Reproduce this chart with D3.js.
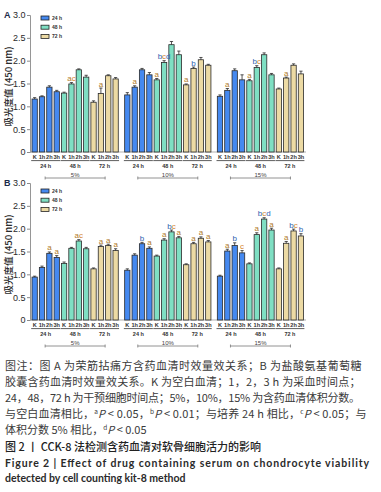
<!DOCTYPE html>
<html>
<head>
<meta charset="utf-8">
<script src="https://cdn.jsdelivr.net/npm/d3@7"></script>
<style>
body { margin: 0; background: #fff; }
svg { display: block; }
</style>
</head>
<body>
<div id="chart"></div>
<script>
// categories
const concentrations = ["5%", "10%", "15%"];
const cultureTimes = ["24 h", "48 h", "72 h"];
const sampleTimes = ["K", "1h", "2h", "3h"];
const yTicks = [0, 0.5, 1.0, 1.5, 2.0, 2.5, 3.0];

// panel A: one row per concentration, 12 bars = culture time x sample time
const valuesA = [
    [1.16, 1.21, 1.42, 1.32, 1.29, 1.49, 1.80, 1.64, 1.09, 1.28, 1.67, 1.60],
    [1.25, 1.42, 1.80, 1.69, 1.58, 1.96, 2.35, 2.13, 1.47, 1.83, 2.02, 1.90],
    [1.22, 1.35, 1.78, 1.58, 1.56, 1.85, 2.13, 1.69, 1.38, 1.62, 1.90, 1.71]
];
const errorsA = [
    [0.03, 0.02, 0.03, 0.03, 0.02, 0.03, 0.02, 0.04, 0.03, 0.12, 0.02, 0.03],
    [0.05, 0.03, 0.03, 0.05, 0.03, 0.04, 0.07, 0.08, 0.02, 0.03, 0.05, 0.02],
    [0.03, 0.04, 0.04, 0.11, 0.03, 0.04, 0.04, 0.03, 0.02, 0.02, 0.03, 0.06]
];
const marksA = [
    ["", "", "", "", "", "ac", "", "", "", "a", "", ""],
    ["", "a", "", "", "a", "bcd", "", "", "a", "b", "", ""],
    ["", "a", "", "", "a", "bc", "", "", "", "a", "", ""]
];

// panel B
const valuesB = [
    [0.94, 1.15, 1.46, 1.37, 1.24, 1.57, 1.73, 1.56, 1.12, 1.61, 1.63, 1.52],
    [1.09, 1.42, 1.67, 1.57, 1.40, 1.75, 1.93, 1.80, 1.21, 1.67, 1.79, 1.71],
    [0.96, 1.51, 1.63, 1.47, 1.23, 1.87, 2.21, 1.97, 1.12, 1.68, 1.95, 1.84]
];
const errorsB = [
    [0.02, 0.03, 0.03, 0.04, 0.03, 0.02, 0.03, 0.03, 0.02, 0.03, 0.03, 0.04],
    [0.03, 0.03, 0.03, 0.03, 0.02, 0.03, 0.04, 0.03, 0.02, 0.03, 0.03, 0.03],
    [0.02, 0.04, 0.06, 0.05, 0.02, 0.04, 0.03, 0.04, 0.02, 0.04, 0.04, 0.05]
];
const marksB = [
    ["", "", "a", "a", "", "", "ac", "", "", "a", "a", "a"],
    ["", "", "b", "a", "", "a", "bc", "a", "", "a", "a", "a"],
    ["", "a", "b", "c", "", "a", "bcd", "a", "", "a", "bc", "b"]
];

const W = 381, H = 492;

const svg = d3.select("#chart")
    .append("svg")
    .attr("width", W)
    .attr("height", H);

const fill = d3.scaleOrdinal()
    .domain(cultureTimes)
    .range(["#4589f0", "#7fdfc3", "#ecdaa4"]);

const letterColor = { a: "#b07a2a", b: "#2f62b0", c: "#d4842a", d: "#2f62b0" };

const barKeys = d3.cross(cultureTimes, sampleTimes).map(d => d.join("|"));

const xGroup = d3.scaleBand()
    .domain(concentrations)
    .range([32, 303.6])
    .paddingInner(0.069)
    .paddingOuter(0);

const xBar = d3.scaleBand()
    .domain(barKeys)
    .range([0, xGroup.bandwidth()])
    .paddingInner(0.28)
    .paddingOuter(0);

const bw = xBar.bandwidth();

function buildPanel(p) {
    const base = p.top + 137;
    const y = d3.scaleLinear().domain([0, 3]).range([base, p.top]);
    const g = svg.append("g");

    // flatten rows
    const bars = [];
    concentrations.forEach((c, gi) => {
        barKeys.forEach((k, i) => {
            const [time, point] = k.split("|");
            bars.push({
                c, k, time, point,
                v: p.values[gi][i],
                e: p.errors[gi][i],
                mark: p.marks[gi][i],
                x: xGroup(c) + xBar(k)
            });
        });
    });

    // y axis
    const yAxis = d3.axisLeft(y)
        .tickValues(yTicks)
        .tickSize(3)
        .tickPadding(1.5)
        .tickFormat(d => d === 0 ? "0" : d3.format(".1f")(d));

    const ax = g.append("g")
        .attr("transform", "translate(30,0)")
        .call(yAxis);
    ax.select(".domain").attr("stroke", "#8a8a8a").attr("stroke-width", 0.9);
    ax.selectAll(".tick line").attr("stroke", "#8a8a8a");
    ax.selectAll(".tick text")
        .attr("fill", "#2a2a2a")
        .style("font", "9px 'Liberation Sans', Arial, sans-serif");

    // baseline
    g.append("line")
        .attr("x1", 30).attr("x2", 306)
        .attr("y1", base).attr("y2", base)
        .attr("stroke", "#a8a8a8")
        .attr("stroke-width", 0.9);

    // bars
    g.selectAll(".bar")
        .data(bars)
        .enter()
        .append("rect")
        .attr("class", "bar")
        .attr("x", d => d.x)
        .attr("y", d => y(d.v))
        .attr("width", bw)
        .attr("height", d => base - y(d.v))
        .attr("fill", d => fill(d.time))
        .attr("stroke", "#2a2a2a")
        .attr("stroke-width", 0.8);

    // error bars
    g.selectAll(".err")
        .data(bars)
        .enter()
        .append("path")
        .attr("class", "err")
        .attr("d", d => {
            const cx = d.x + bw / 2;
            return `M${cx},${y(d.v)}V${y(d.v + d.e)}M${cx - 1.6},${y(d.v + d.e)}H${cx + 1.6}`;
        })
        .attr("fill", "none")
        .attr("stroke", "#2a2a2a")
        .attr("stroke-width", 0.8);

    // significance letters
    const mk = g.selectAll(".mark")
        .data(bars.filter(d => d.mark))
        .enter()
        .append("text")
        .attr("class", "mark")
        .attr("x", d => d.x + bw / 2)
        .attr("y", d => y(d.v + d.e) - 1.5)
        .attr("text-anchor", "middle")
        .style("font", "8px 'Liberation Sans', Arial, sans-serif");
    mk.selectAll("tspan")
        .data(d => d.mark.split(""))
        .enter()
        .append("tspan")
        .attr("fill", l => letterColor[l])
        .text(l => l);

    // sample time labels
    g.selectAll(".xl")
        .data(bars)
        .enter()
        .append("text")
        .attr("class", "xl")
        .attr("x", d => d.x + bw / 2)
        .attr("y", base + 6.9)
        .attr("text-anchor", "middle")
        .attr("fill", "#333")
        .style("font", "bold 5.6px 'Liberation Sans', Arial, sans-serif")
        .text(d => d.point);

    // culture time underline + label
    const subs = d3.cross(concentrations, cultureTimes);
    g.selectAll(".sub")
        .data(subs)
        .enter()
        .append("line")
        .attr("class", "sub")
        .attr("x1", d => xGroup(d[0]) + xBar(d[1] + "|K") - 0.8)
        .attr("x2", d => xGroup(d[0]) + xBar(d[1] + "|3h") + bw + 0.8)
        .attr("y1", base + 8.6)
        .attr("y2", base + 8.6)
        .attr("stroke", "#333")
        .attr("stroke-width", 0.8);
    g.selectAll(".subl")
        .data(subs)
        .enter()
        .append("text")
        .attr("class", "subl")
        .attr("x", d => xGroup(d[0]) + (xBar(d[1] + "|K") + xBar(d[1] + "|3h") + bw) / 2)
        .attr("y", base + 15.6)
        .attr("text-anchor", "middle")
        .attr("fill", "#333")
        .style("font", "bold 5.5px 'Liberation Sans', Arial, sans-serif")
        .text(d => d[1]);

    // concentration brackets
    const br = g.selectAll(".br")
        .data(concentrations)
        .enter()
        .append("g")
        .attr("class", "br")
        .attr("transform", c => `translate(${xGroup(c) + xGroup.bandwidth() / 2},${base + 26})`);
    br.append("path")
        .attr("d", "M-30,-1.5V1.5M-30,0H30M30,-1.5V1.5")
        .attr("fill", "none")
        .attr("stroke", "#777")
        .attr("stroke-width", 0.8);
    br.append("text")
        .attr("y", -1)
        .attr("text-anchor", "middle")
        .attr("fill", "#444")
        .style("font", "6px 'Liberation Sans', Arial, sans-serif")
        .text(c => c);

    // y label
    g.append("text")
        .attr("transform", `translate(11.5,${(p.top + base) / 2 + 3}) rotate(-90)`)
        .attr("text-anchor", "middle")
        .attr("fill", "#2a2a2a")
        .style("font", "500 9.5px 'Noto Sans CJK SC', sans-serif")
        .text("吸光度值 (450 nm)");

    // panel letter
    g.append("text")
        .attr("x", 4)
        .attr("y", p.top + 3)
        .attr("fill", "#1c2b4a")
        .style("font", "bold 9px 'Liberation Sans', Arial, sans-serif")
        .text(p.letter);

    // legend
    const lg = g.selectAll(".lg")
        .data(cultureTimes)
        .enter()
        .append("g")
        .attr("class", "lg")
        .attr("transform", (d, i) => `translate(41,${p.legendTop + i * 9.2})`);
    lg.append("rect")
        .attr("width", 8)
        .attr("height", 4)
        .attr("fill", d => fill(d))
        .attr("stroke", "#222")
        .attr("stroke-width", 0.8);
    lg.append("text")
        .attr("x", 11)
        .attr("y", 4)
        .attr("fill", "#333")
        .style("font", "bold 5px 'Liberation Sans', Arial, sans-serif")
        .text(d => d);
}

buildPanel({ letter: "A", top: 15, legendTop: 16, values: valuesA, errors: errorsA, marks: marksA });
buildPanel({ letter: "B", top: 183, legendTop: 189, values: valuesB, errors: errorsB, marks: marksB });

// caption
const cap = [
    { y: 370, len: 356.5, segs: [{ t: "图注：图 A 为荣筋拈痛方含药血清时效量效关系；B 为盐酸氨基葡萄糖" }] },
    { y: 386, len: 355.5, segs: [{ t: "胶囊含药血清时效量效关系。K 为空白血清；1，2，3 h 为采血时间点；" }] },
    { y: 402, len: 355, segs: [{ t: "24，48，72 h 为干预细胞时间点；5%，10%，15% 为含药血清体积分数。" }] },
    { y: 418, len: 361.5, segs: [
        { t: "与空白血清相比，" }, { t: "a", sup: true }, { t: "P", it: true }, { t: " < 0.05，" },
        { t: "b", sup: true }, { t: "P", it: true }, { t: " < 0.01；与培养 24 h 相比，" },
        { t: "c", sup: true }, { t: "P", it: true }, { t: " < 0.05；与" }] },
    { y: 434, segs: [{ t: "体积分数 5% 相比，" }, { t: "d", sup: true }, { t: "P", it: true }, { t: " < 0.05" }] }
];

cap.forEach(line => {
    const t = svg.append("text")
        .attr("x", 5)
        .attr("y", line.y)
        .attr("fill", "#3a3a3a")
        .style("font", "11px 'Noto Sans CJK SC', sans-serif");
    if (line.len) t.attr("textLength", line.len).attr("lengthAdjust", "spacing");
    line.segs.forEach((s, i) => {
        const ts = t.append("tspan").text(s.t);
        if (s.it) ts.style("font-style", "italic");
        if (s.sup) ts.attr("dy", -4).style("font-size", "6.5px");
        else if (i > 0 && line.segs[i - 1].sup) ts.attr("dy", 4);
    });
});

svg.append("text")
    .attr("x", 5)
    .attr("y", 451)
    .attr("fill", "#222")
    .style("font", "500 11px 'Noto Sans CJK SC', sans-serif")
    .text("图 2 丨 CCK-8 法检测含药血清对软骨细胞活力的影响");

svg.append("text")
    .attr("x", 5)
    .attr("y", 467)
    .attr("fill", "#2a2a2a")
    .attr("textLength", 364)
    .attr("lengthAdjust", "spacing")
    .style("font", "bold 10.5px Lato, 'Open Sans', sans-serif")
    .text("Figure 2   |   Effect of drug containing serum on chondrocyte viability");

svg.append("text")
    .attr("x", 5)
    .attr("y", 482)
    .attr("fill", "#2a2a2a")
    .style("font", "bold 10.5px Lato, 'Open Sans', sans-serif")
    .text("detected by cell counting kit-8 method");
</script>
</body>
</html>
